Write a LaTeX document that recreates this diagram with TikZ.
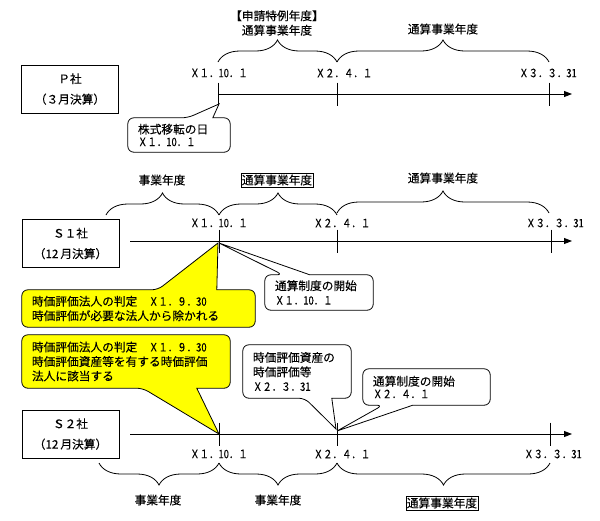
\documentclass[tikz,border=0pt]{standalone}
\usepackage{fontspec}
\setmainfont{Noto Sans CJK JP}[FakeBold=0.25]
\newfontfamily\datefont{Noto Sans CJK JP}[FakeStretch=0.82,FakeBold=0.25]
\usetikzlibrary{decorations.pathreplacing,arrows.meta}
\pgfdeclarelayer{fg}
\pgfsetlayers{main,fg}
\newcommand\jsz{\fontsize{11.7}{14.5}\selectfont}
\newcommand\dsz{\datefont\fontsize{11.5}{14}\selectfont}
\definecolor{cyel}{HTML}{FFFF00}
\tikzset{
 tlarrow/.style={line width=0.9pt,-{Triangle[length=8pt,width=6pt]}},
 tickln/.style={line width=0.9pt},
 brc/.style={decorate,decoration={brace,amplitude=22pt},line width=0.8pt},
 brcd/.style={decorate,decoration={brace,amplitude=22pt,mirror},line width=0.8pt},
 lbl/.style={font=\jsz,inner sep=0pt,align=center},
 boxlbl/.style={font=\jsz,draw,line width=0.6pt,inner xsep=1pt,inner ysep=1.5pt},
 dlbl/.style={font=\dsz,inner sep=0pt},
 cobox/.style={draw,line width=0.8pt,font=\jsz,align=center,minimum width=97pt,minimum height=48pt},
 ctext/.style={font=\jsz,align=left,inner xsep=10pt,inner ysep=0pt},
 cline/.style={line width=0.8pt},
}
\begin{document}
\begin{tikzpicture}[x=1pt,y=-1pt]
\useasboundingbox (0,0) rectangle (600,520);
\fill[white] (0,0) rectangle (600,520);

% timeline coordinates
\coordinate (ps) at (218,94); \coordinate (pe) at (572,94);
\coordinate (p1) at (218,94); \coordinate (p2) at (337,94); \coordinate (p3) at (549,94);
\coordinate (as) at (130,241); \coordinate (ae) at (572,241);
\coordinate (a1) at (219,241); \coordinate (a2) at (337,241); \coordinate (a3) at (551,241);
\coordinate (bs) at (130,434); \coordinate (be) at (572,434);
\coordinate (b1) at (219,434); \coordinate (b2) at (337,434); \coordinate (b3) at (550,434);

\draw[tlarrow] (ps) -- (pe);
\draw[tlarrow] (as) -- (ae);
\draw[tlarrow] (bs) -- (be);
\foreach \t in {p1,p2,p3,a1,a2,a3,b1,b2,b3}
  \draw[tickln] ([yshift=11.5pt]\t) -- ([yshift=-11.5pt]\t);

% company boxes
\node[cobox] (P) at (70,89) {Ｐ社\\[6pt]（３月決算）};
\node[cobox] (S1) at (70.5,243.5) {Ｓ１社\\[6pt]（12\,月決算）};
\node[cobox] (S2) at (70.5,434) {Ｓ２社\\[6pt]（12\,月決算）};

% date labels
\node[dlbl] (dp1) at (219,73) {Ｘ１．10．１};
\node[dlbl] (dp2) at (344,73) {Ｘ２．４．１};
\node[dlbl] (dp3) at (548,73) {Ｘ３．３．31};
\node[dlbl] (da1) at (219,223) {Ｘ１．10．１};
\node[dlbl] (da2) at (342,223) {Ｘ２．４．１};
\node[dlbl] (da3) at (555,223) {Ｘ３．３．31};
\node[dlbl] (db1) at (219,454) {Ｘ１．10．１};
\node[dlbl] (db2) at (342,454) {Ｘ２．４．１};
\node[dlbl] (db3) at (553,454) {Ｘ３．３．31};

% braces
\coordinate (pb0) at (218,62); \coordinate (pb1) at (337,62); \coordinate (pb2) at (549,62);
\draw[brc] (pb0) -- (pb1);
\draw[brc] (pb1) -- (pb2);
\coordinate (ab0) at (106,215); \coordinate (ab1) at (219,215); \coordinate (ab2) at (337,215);
\coordinate (ab3) at (337,213); \coordinate (ab4) at (549,213);
\draw[brc] (ab0) -- (ab1);
\draw[brc] (ab1) -- (ab2);
\draw[brc] (ab3) -- (ab4);
\coordinate (bb0) at (99,463); \coordinate (bb1) at (219,463); \coordinate (bb2) at (337,463); \coordinate (bb3) at (550,463);
\draw[brcd] (bb0) -- (bb1);
\draw[brcd] (bb1) -- (bb2);
\draw[brcd] (bb2) -- (bb3);

% brace labels
\node[lbl] (lp1) at (277,23) {【申請特例年度】\\通算事業年度};
\node[lbl] (lp2) at (443,29) {通算事業年度};
\node[lbl] (la1) at (162,180) {事業年度};
\node[boxlbl] (la2) at (277,180) {通算事業年度};
\node[lbl] (la3) at (443,178) {通算事業年度};
\node[lbl] (lb1) at (158,500) {事業年度};
\node[lbl] (lb2) at (278,500) {事業年度};
\node[boxlbl] (lb3) at (442,503) {通算事業年度};

% callout tips
\coordinate (tP) at (219,104);
\coordinate (tY1) at (218,243);
\coordinate (tW1) at (219,243);
\coordinate (tY2) at (219,434);
\coordinate (tW2) at (336,429);
\coordinate (tW3) at (337,431);

% callout texts
\begin{pgfonlayer}{fg}
\node[ctext,minimum width=102pt,minimum height=34pt,text width=82pt] (cP) at (179,135)
  {株式移転の日\\[-2pt]{\dsz Ｘ１．10．１}};
\node[ctext,minimum width=233pt,minimum height=37pt,text width=213pt] (cY1) at (138.5,308.5)
  {時価評価法人の判定　{\dsz Ｘ１．９．30}\\時価評価が必要な法人から除かれる};
\node[ctext,minimum width=108pt,minimum height=35pt,text width=88pt] (cW1) at (319,292.5)
  {通算制度の開始\\{\dsz Ｘ１．10．１}};
\node[ctext,minimum width=208pt,minimum height=53pt,text width=188pt] (cY2) at (126,361.5)
  {時価評価法人の判定　{\dsz Ｘ１．９．30}\\時価評価資産等を有する時価評価\\法人に該当する};
\node[ctext,minimum width=108pt,minimum height=53pt,text width=88pt] (cW2) at (297,371.5)
  {時価評価資産の\\時価評価等\\{\dsz Ｘ２．３．31}};
\node[ctext,minimum width=127pt,minimum height=36pt,text width=107pt] (cW3) at (426.5,387)
  {通算制度の開始\\[-2pt]{\dsz Ｘ２．４．１}};
\end{pgfonlayer}

% callout outlines (pointer on top)
\draw[cline,fill=white] ([xshift=60pt]cP.north west) -- (tP) -- ([xshift=85pt]cP.north west)
  [rounded corners=6pt] -- (cP.north east) -- (cP.south east) -- (cP.south west) -- (cP.north west) -- cycle;
\draw[cline,fill=cyel] ([xshift=136pt]cY1.north west) -- (tY1) -- ([xshift=195pt]cY1.north west)
  [rounded corners=6pt] -- (cY1.north east) -- (cY1.south east) -- (cY1.south west) -- (cY1.north west) -- cycle;
\draw[cline,fill=white] ([xshift=18pt]cW1.north west) -- (tW1) -- ([xshift=45pt]cW1.north west)
  [rounded corners=6pt] -- (cW1.north east) -- (cW1.south east) -- (cW1.south west) -- (cW1.north west) -- cycle;
% callout outlines (pointer at bottom)
\draw[cline,fill=cyel] ([xshift=121pt]cY2.south west) -- (tY2) -- ([xshift=175pt]cY2.south west)
  [rounded corners=6pt] -- (cY2.south east) -- (cY2.north east) -- (cY2.north west) -- (cY2.south west) -- cycle;
\draw[cline,fill=white] ([xshift=62pt]cW2.south west) -- (tW2) -- ([xshift=89pt]cW2.south west)
  [rounded corners=6pt] -- (cW2.south east) -- (cW2.north east) -- (cW2.north west) -- (cW2.south west) -- cycle;
\draw[cline,fill=white] ([xshift=20pt]cW3.south west) -- (tW3) -- ([xshift=50pt]cW3.south west)
  [rounded corners=6pt] -- (cW3.south east) -- (cW3.north east) -- (cW3.north west) -- (cW3.south west) -- cycle;
\end{tikzpicture}
\end{document}
